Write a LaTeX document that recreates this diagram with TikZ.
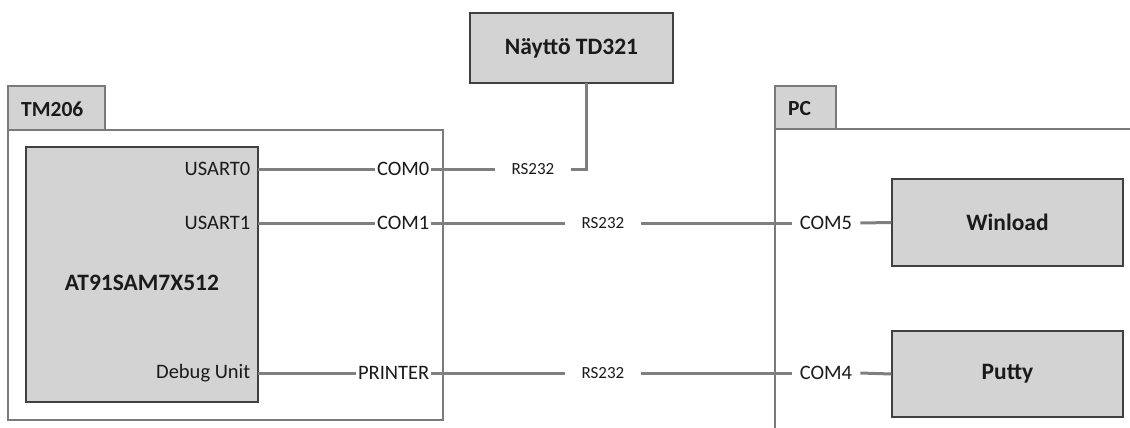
\documentclass[tikz,border=0pt]{standalone}
\usepackage{fontspec}
\setmainfont{Carlito}
\begin{document}
\begin{tikzpicture}[x=1pt,y=-1pt,
  font=\fontsize{20.5}{24}\selectfont,
  boxfill/.style={fill=boxgray,draw=boxedge,line width=1.2pt},
  frame/.style={draw=frameedge,line width=1.2pt},
  conn/.style={draw=linegray,line width=3pt},
  port/.style={inner xsep=1.5pt,inner ysep=0pt,text=txt},
  rslbl/.style={inner xsep=16pt,inner ysep=0pt,text=txt,font=\fontsize{17}{20}\selectfont},
  comlbl/.style={inner xsep=8pt,inner ysep=0pt,text=txt},
  title/.style={font=\bfseries\fontsize{23.5}{28}\selectfont,text=txt},
  tabtitle/.style={font=\bfseries\fontsize{21.5}{25}\selectfont,text=txt}
]
\definecolor{boxgray}{HTML}{D3D3D3}
\definecolor{boxedge}{HTML}{404040}
\definecolor{frameedge}{HTML}{7A7A7A}
\definecolor{linegray}{HTML}{7F7F7F}
\definecolor{txt}{HTML}{1A1A1A}
\useasboundingbox (0,0) rectangle (1130,428);

% TM206 frame
\draw[frame,fill=white] (8,130) rectangle (443,420);
\draw[frame,fill=boxgray] (8,86) rectangle (105,130);
\node[tabtitle,anchor=west,inner sep=0pt] (tmlbl) at (21,109) {TM206};

% PC frame (cut off)
\draw[frame] (775,428) -- (775,129) -- (1130,129);
\draw[frame,fill=boxgray] (775,86) rectangle (836,129);
\node[tabtitle,anchor=west,inner sep=0pt] (pclbl) at (788,109) {PC};

% boxes
\node[boxfill,minimum width=232pt,minimum height=255pt,inner sep=0pt] (mcu) at (142,274.5) {};
\node[title] (mcul) at (142,283) {AT91SAM7X512};
\node[boxfill,minimum width=203pt,minimum height=70pt,inner sep=0pt,title] (nay) at (571.5,48) {Näyttö TD321};
\node[boxfill,minimum width=231pt,minimum height=87pt,inner sep=0pt,title] (win) at (1007.5,222.5) {Winload};
\node[boxfill,minimum width=231pt,minimum height=86pt,inner sep=0pt,title] (put) at (1007.5,374) {Putty};
\coordinate (naydrop) at (586,83);

% ports in MCU
\node[port,anchor=east] (u0) at (252,169) {USART0};
\node[port,anchor=east] (u1) at (252,223) {USART1};
\node[port,anchor=east] (dbg) at (252,373) {Debug Unit};
\coordinate (u0e) at (258,169);
\coordinate (u1e) at (258,223);
\coordinate (dbge) at (258,373);

% COM labels
\node[port,anchor=east] (c0) at (431,169) {COM0};
\node[port,anchor=east] (c1) at (431,223) {COM1};
\node[port,anchor=east] (pr) at (431,373) {PRINTER};
\node[rslbl] (rs0) at (533,169) {RS232};
\node[rslbl] (rs1) at (603,223) {RS232};
\node[rslbl] (rs2) at (603,373) {RS232};
\node[comlbl] (c5) at (826,223) {COM5};
\node[comlbl] (c4) at (826,373) {COM4};

% connectors
\draw[conn] (u0e) -- (c0.west);
\draw[conn] (c0.east) -- (rs0.west);
\draw[conn] (rs0.east) -| (naydrop);
\draw[conn] (u1e) -- (c1.west);
\draw[conn] (c1.east) -- (rs1.west);
\draw[conn] (rs1.east) -- (c5.west);
\draw[conn] (c5.east) -- (win.west);
\draw[conn] (dbge) -- (pr.west);
\draw[conn] (pr.east) -- (rs2.west);
\draw[conn] (rs2.east) -- (c4.west);
\draw[conn] (c4.east) -- (put.west);
\end{tikzpicture}
\end{document}
